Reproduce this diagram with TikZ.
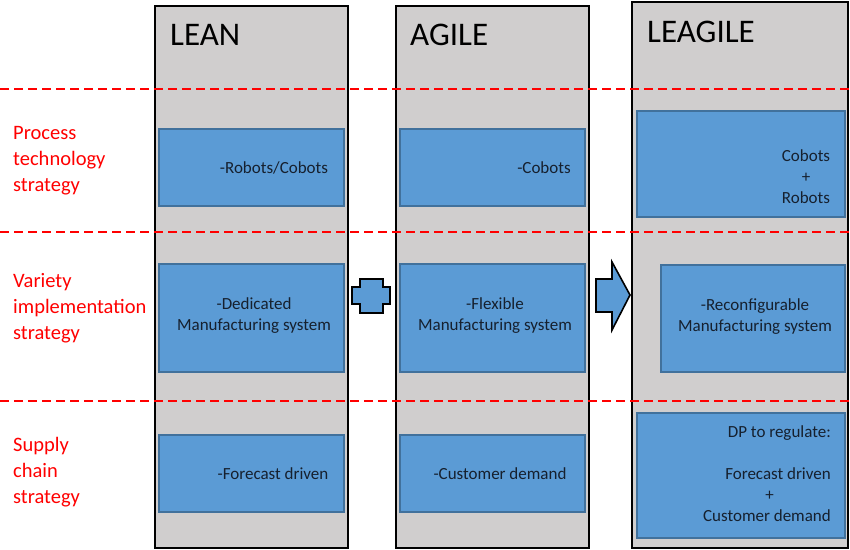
\documentclass[tikz,border=0pt]{standalone}
\usepackage{fontspec}
\setmainfont{Carlito}
\usepackage{tikz}
\usetikzlibrary{positioning}
\usepackage{xcolor}
\definecolor{colgrey}{HTML}{D0CECE}
\definecolor{cellblue}{HTML}{5B9BD5}
\definecolor{cellline}{HTML}{41719C}
\definecolor{celltextcol}{HTML}{16202E}

\begin{document}
\begin{tikzpicture}[x=1pt, y=-1pt, every node/.style={inner sep=0}]
\tikzstyle{column}=[draw=black, line width=2, fill=colgrey, rectangle]
\tikzstyle{cell}=[draw=cellline, line width=1.2, fill=cellblue, rectangle]
\tikzstyle{celltext}=[text=celltextcol, align=center, font=\fontsize{17}{21}\selectfont]
\tikzstyle{title}=[anchor=base west, font=\fontsize{33}{38}\selectfont]
\tikzstyle{rowlabel}=[anchor=west, text=red, align=left, font=\fontsize{20.5}{26}\selectfont]
\tikzstyle{divider}=[red, line width=2, dash pattern=on 9 off 5]
\tikzstyle{sign}=[draw=black, line width=1.6, fill=cellblue, line join=miter]

\useasboundingbox (0,0) rectangle (850,549);

% columns
\node[column, minimum width=193, minimum height=542] (lean) at (251.5,277) {};
\node[column, minimum width=193, minimum height=542] (agile) at (492.5,277) {};
\node[column, minimum width=216, minimum height=546] (leagile) at (740,275) {};

\node[title] (leanTitle) at (170,45) {LEAN};
\node[title] (agileTitle) at (410,45) {AGILE};
\node[title] (leagileTitle) at (647,42) {LEAGILE};

% row dividers
\coordinate (d1a) at (0,89);   \coordinate (d1b) at (850,89);
\coordinate (d2a) at (0,232);  \coordinate (d2b) at (850,232);
\coordinate (d3a) at (0,401);  \coordinate (d3b) at (850,401);
\draw[divider] (d1a) -- (d1b);
\draw[divider] (d2a) -- (d2b);
\draw[divider] (d3a) -- (d3b);

% row labels
\node[rowlabel] (techLabel) at (13,161) {Process\\technology\\strategy};
\node[rowlabel] (varLabel) at (13,308) {Variety\\implementation\\strategy};
\node[rowlabel] (supLabel) at (13,472) {Supply\\chain\\strategy};

% LEAN cells
\node[cell, minimum width=185, minimum height=77] (leanTech) at (251.5,167.5) {};
\node[cell, minimum width=185, minimum height=108] (leanVar) at (251.5,318) {};
\node[cell, minimum width=185, minimum height=77] (leanSup) at (251.5,473.5) {};
\node[celltext] (leanTechTxt) at (274,168) {-Robots/Cobots};
\node[celltext] (leanVarTxt) at (254,315.5) {-Dedicated\\Manufacturing system};
\node[celltext] (leanSupTxt) at (273,474) {-Forecast driven};

% AGILE cells
\node[cell, minimum width=185, minimum height=77] (agileTech) at (492.5,167.5) {};
\node[cell, minimum width=185, minimum height=108] (agileVar) at (492.5,318) {};
\node[cell, minimum width=185, minimum height=77] (agileSup) at (492.5,473.5) {};
\node[celltext] (agileTechTxt) at (544,168) {-Cobots};
\node[celltext] (agileVarTxt) at (495,315.5) {-Flexible\\Manufacturing system};
\node[celltext] (agileSupTxt) at (500,474) {-Customer demand};

% LEAGILE cells
\node[cell, minimum width=208, minimum height=106] (leagTech) at (741,164) {};
\node[cell, minimum width=184, minimum height=107] (leagVar) at (753,318.5) {};
\node[cell, minimum width=208, minimum height=125] (leagSup) at (741,475.5) {};
\node[celltext] (leagTechTxt) at (806,177) {Cobots\\+\\Robots};
\node[celltext] (leagVarTxt) at (755,316.5) {-Reconfigurable\\Manufacturing system};
\node[celltext, anchor=east, align=right] (leagSupTxt) at (831,473.5)
  {DP to regulate:\\[21pt]Forecast driven\\+\rule{57pt}{0pt}\\Customer demand};

% plus and arrow between columns
\draw[sign] (360,279) -- (383,279) -- (383,287) -- (390,287) -- (390,304) -- (383,304)
  -- (383,313) -- (360,313) -- (360,304) -- (352,304) -- (352,287) -- (360,287) -- cycle;
\draw[sign] (596,279) -- (612,279) -- (612,262) -- (630,295) -- (612,330) -- (612,312)
  -- (596,312) -- cycle;
\end{tikzpicture}
\end{document}
